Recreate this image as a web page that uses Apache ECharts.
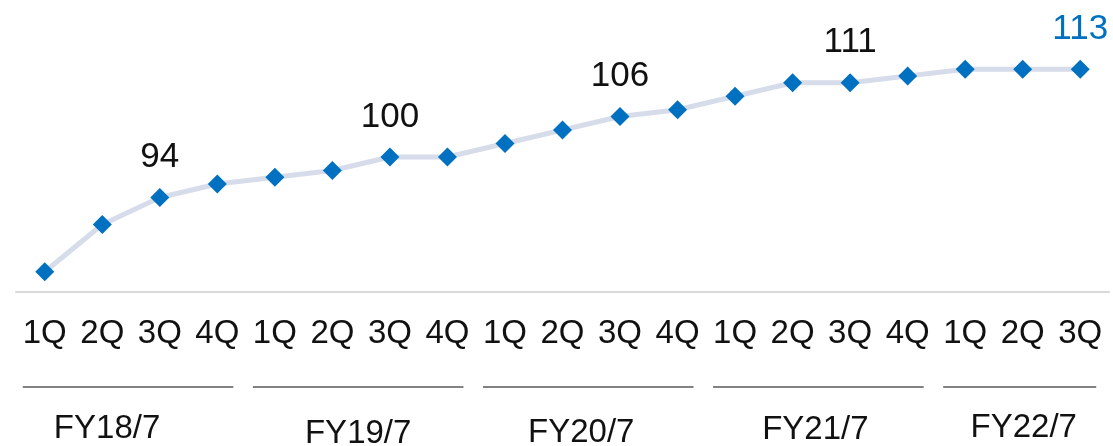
<!DOCTYPE html>
<html>
<head>
<meta charset="utf-8">
<style>
  html, body { margin: 0; padding: 0; background: #ffffff; }
  #chart { width: 1113px; height: 446px; }
</style>
<script src="https://cdn.jsdelivr.net/npm/echarts@6/dist/echarts.min.js"></script>
</head>
<body>
<div id="chart"></div>
<script>
// Quarterly index, FY18/7 1Q through FY22/7 3Q
const quarters = ['1Q','2Q','3Q','4Q','1Q','2Q','3Q','4Q','1Q','2Q','3Q','4Q','1Q','2Q','3Q','4Q','1Q','2Q','3Q'];
const values = [83, 90, 94, 96, 97, 98, 100, 100, 102, 104, 106, 107, 109, 111, 111, 112, 113, 113, 113];
// Points whose value is printed above the marker
const labelledIdx = [2, 6, 10, 14, 18];
// Fiscal year groups: name, first and last quarter index
const fiscalYears = ['FY18/7', 'FY19/7', 'FY20/7', 'FY21/7', 'FY22/7'];
const fyStart = [0, 4, 8, 12, 16];
const fyEnd = [3, 7, 11, 15, 18];

const FONT = '"Liberation Sans", Arial, Helvetica, sans-serif';
const BLUE = '#0070c0';

const chart = echarts.init(document.getElementById('chart'), null, { renderer: 'canvas' });

const seriesData = values.map((v, i) => {
  const item = { value: v };
  if (labelledIdx.includes(i)) {
    item.label = {
      show: true,
      position: 'top',
      distance: 13,
      fontSize: 35,
      fontFamily: FONT,
      color: i === values.length - 1 ? BLUE : '#111111'
    };
  }
  return item;
});

chart.setOption({
  animation: false,
  grid: { left: 16, right: 4, top: 22, bottom: 154 },
  xAxis: {
    type: 'category',
    data: quarters,
    boundaryGap: true,
    axisLine: { show: true, lineStyle: { color: '#d9d9d9', width: 2 } },
    axisTick: { show: false },
    axisLabel: {
      interval: 0,
      margin: 25,
      fontSize: 33,
      fontFamily: FONT,
      color: '#111111'
    }
  },
  yAxis: {
    type: 'value',
    min: 80,
    max: 120,
    show: false,
    splitLine: { show: false }
  },
  series: [{
    type: 'line',
    data: seriesData,
    symbol: 'diamond',
    symbolSize: 19,
    itemStyle: { color: BLUE },
    lineStyle: { color: '#d6dcea', width: 5 },
    label: { show: false },
    z: 3
  }]
});

// Fiscal-year brackets and names under the quarter labels, placed from the x scale
function drawGroups() {
  // small hand-set nudges for the year captions (dx, dy in px)
  const captionNudge = [[-24, -2], [-3, 3], [-10, 2], [-6, -1], [1, -3]];
  const elements = [];
  fiscalYears.forEach((name, k) => {
    const x0 = chart.convertToPixel({ xAxisIndex: 0 }, fyStart[k]);
    const x1 = chart.convertToPixel({ xAxisIndex: 0 }, fyEnd[k]);
    elements.push({
      type: 'line',
      shape: { x1: x0 - 22, y1: 387, x2: x1 + 16, y2: 387 },
      style: { stroke: '#595959', lineWidth: 1.5 },
      silent: true
    });
    elements.push({
      type: 'text',
      x: (x0 + x1) / 2 + captionNudge[k][0],
      y: 431 + captionNudge[k][1],
      style: {
        text: name,
        fontSize: 33,
        fontFamily: FONT,
        fill: '#111111',
        align: 'center',
        verticalAlign: 'middle'
      },
      silent: true
    });
  });
  chart.setOption({ graphic: { elements: elements } });
}
drawGroups();
</script>
</body>
</html>
